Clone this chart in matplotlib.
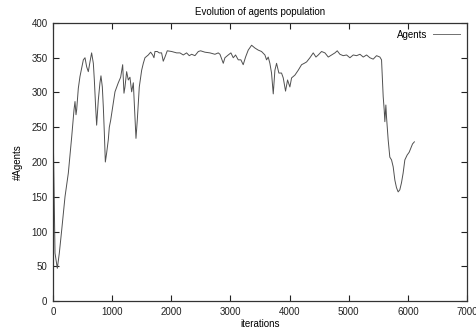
import matplotlib
matplotlib.use('Agg')
import matplotlib.pyplot as plt

# population, (iteration, agents)
iterations = [0, 0, 34, 73, 107, 147, 203, 259, 316, 355, 372, 389, 400, 428, 456, 513,
              541, 569, 597, 625, 653, 682, 699, 721, 738, 766, 794, 811, 834, 851, 868,
              885, 907, 935, 952, 975, 1009, 1048, 1104, 1144, 1178, 1200, 1217, 1245,
              1273, 1301, 1330, 1358, 1386, 1403, 1425, 1459, 1499, 1527, 1555, 1611,
              1651, 1685, 1707, 1724, 1763, 1797, 1836, 1864, 1893, 1932, 2006, 2090,
              2146, 2203, 2259, 2304, 2344, 2400, 2457, 2496, 2569, 2654, 2738, 2794,
              2823, 2879, 2907, 2963, 3008, 3048, 3087, 3132, 3177, 3216, 3256, 3301,
              3358, 3414, 3470, 3526, 3583, 3611, 3639, 3667, 3695, 3724, 3752, 3780,
              3819, 3864, 3893, 3932, 3966, 4005, 4034, 4090, 4146, 4203, 4248, 4288,
              4344, 4400, 4446, 4485, 4541, 4598, 4654, 4710, 4767, 4806, 4851, 4907,
              4964, 5020, 5077, 5133, 5190, 5246, 5302, 5358, 5414, 5471, 5527, 5555,
              5583, 5600, 5611, 5628, 5639, 5667, 5695, 5724, 5752, 5780, 5808, 5836,
              5864, 5892, 5920, 5949, 5988, 6022, 6051, 6079, 6110]
agents = [290, 263, 69, 47, 69, 102, 150, 184, 236, 275, 287, 268, 275, 306, 323, 347,
          350, 337, 330, 344, 357, 342, 318, 279, 253, 289, 314, 324, 308, 279, 242,
          200, 213, 232, 250, 260, 279, 301, 314, 322, 340, 299, 308, 330,
          318, 322, 301, 314, 265, 234, 260, 308, 332, 342, 350, 354,
          358, 354, 350, 359, 359, 357, 357, 345, 351, 360, 359, 357,
          357, 354, 357, 353, 355, 353, 359, 360, 358, 357, 355, 357,
          355, 342, 350, 354, 357, 350, 354, 347, 347, 340, 351, 361,
          368, 364, 361, 359, 354, 347, 351, 342, 328, 298, 332, 342,
          328, 328, 321, 302, 318, 308, 321, 325, 332, 340, 342, 344,
          350, 357, 351, 354, 359, 357, 351, 354, 357, 360, 355, 353,
          354, 350, 354, 353, 355, 351, 354, 350, 348, 353, 351, 347,
          294, 275, 258, 282, 265, 232, 207, 203, 193, 174, 163, 157,
          160, 170, 184, 203, 210, 214, 220, 226, 229]

xticks = [0, 1000, 2000, 3000, 4000, 5000, 6000, 7000]
yticks = [0, 50, 100, 150, 200, 250, 300, 350, 400]

plt.rcParams['font.family'] = ['Liberation Sans', 'DejaVu Sans']

fig = plt.figure(figsize=(4.77, 3.34), dpi=100)
ax = fig.add_axes([53 / 477, 1 - 301 / 334, 414 / 477, 278 / 334])

ax.plot(iterations, agents, color='#505050', linewidth=0.7, label='Agents')

ax.set_xlim(0, 7000)
ax.set_ylim(0, 400)
ax.set_xticks(xticks)
ax.set_yticks(yticks)
ax.tick_params(direction='in', length=4, width=0.8, top=True, right=True,
               labelsize=7, pad=4, colors='#222222')
for s in ax.spines.values():
    s.set_linewidth(0.9)
    s.set_color('#333333')

ax.set_title('Evolution of agents population', fontsize=7, pad=6)
ax.set_xlabel('iterations', fontsize=7, labelpad=2)
ax.set_ylabel('#Agents', fontsize=7, labelpad=6)

leg = ax.legend(loc='upper right', frameon=False, fontsize=7, markerfirst=False,
                handlelength=2.8, borderaxespad=0.5, handletextpad=0.6,
                borderpad=0.2)
leg.get_lines()[0].set_color('#707070')

fig.savefig('out.png', dpi=100)
